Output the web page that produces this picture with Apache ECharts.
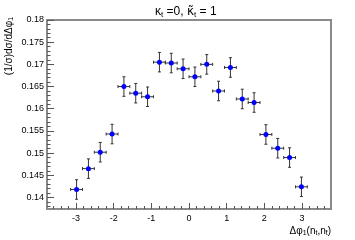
<!DOCTYPE html>
<html>
<head>
<meta charset="utf-8">
<script src="https://cdn.jsdelivr.net/npm/echarts@6/dist/echarts.min.js"></script>
<style>html,body{margin:0;padding:0;background:#fff}#c{width:355px;height:240px}</style>
</head>
<body>
<div id="c"></div>
<script>
// Bin centres of Δφ1 (20 bins over [-π, π])
var binCenters = [-2.985, -2.670, -2.356, -2.042, -1.728, -1.414, -1.100, -0.785, -0.471, -0.157,
                   0.157,  0.471,  0.785,  1.100,  1.414,  1.728,  2.042,  2.356,  2.670,  2.985];
var values = [0.1418, 0.1465, 0.1502, 0.1543, 0.1650, 0.1635, 0.1627, 0.1705, 0.1703, 0.1690,
              0.1672, 0.1700, 0.1640, 0.1693, 0.1622, 0.1614, 0.1542, 0.1511, 0.1490, 0.1424];
var yErrors = [0.0022, 0.0022, 0.0022, 0.0022, 0.0022, 0.0022, 0.0022, 0.0022, 0.0022, 0.0022,
               0.0022, 0.0022, 0.0022, 0.0022, 0.0022, 0.0022, 0.0022, 0.0022, 0.0022, 0.0022];
var binHalfWidth = 0.157;
var xMajorTicks = [-3, -2, -1, 0, 1, 2, 3];
var xMinorTicks = [-3.6, -3.4, -3.2, -2.8, -2.6, -2.4, -2.2, -1.8, -1.6, -1.4, -1.2, -0.8, -0.6, -0.4, -0.2,
                   0.2, 0.4, 0.6, 0.8, 1.2, 1.4, 1.6, 1.8, 2.2, 2.4, 2.6, 2.8, 3.2, 3.4, 3.6];
var yMajorTicks = [0.14, 0.145, 0.15, 0.155, 0.16, 0.165, 0.17, 0.175, 0.18];
var yMinorTicks = [0.138, 0.139, 0.141, 0.142, 0.143, 0.144, 0.146, 0.147, 0.148, 0.149,
                   0.151, 0.152, 0.153, 0.154, 0.156, 0.157, 0.158, 0.159,
                   0.161, 0.162, 0.163, 0.164, 0.166, 0.167, 0.168, 0.169,
                   0.171, 0.172, 0.173, 0.174, 0.176, 0.177, 0.178, 0.179];
var xMin = -3.7699, xMax = 3.7699, yMin = 0.1374, yMax = 0.18;

var FONT = '"Liberation Sans", Arial, sans-serif';
var pts = binCenters.map(function (x, i) { return [x, values[i], yErrors[i]]; });

var chart = echarts.init(document.getElementById('c'), null, {renderer: 'canvas'});
function sub(size, pad) { return {fontSize: size, fontFamily: FONT, color: '#000', padding: [pad, 0, 0, 0]}; }
chart.setOption({
  animation: false,
  backgroundColor: '#fff',
  grid: {left: 47, right: 24, top: 20, bottom: 31, show: true, borderColor: '#8a8a8a', borderWidth: 2, backgroundColor: 'transparent'},
  xAxis: [{
    type: 'value', min: xMin, max: xMax, position: 'bottom',
    axisLine: {show: true, onZero: false, lineStyle: {color: '#8a8a8a', width: 2}},
    axisTick: {show: true, inside: true, length: 6, customValues: xMajorTicks, lineStyle: {color: '#555'}},
    axisLabel: {show: true, customValues: xMajorTicks, margin: 5, fontSize: 9, fontFamily: FONT, color: '#000',
      formatter: function (v) { return String(Math.round(v)); }},
    splitLine: {show: false}
  }, {
    type: 'value', min: xMin, max: xMax, position: 'bottom',
    axisLine: {show: false, onZero: false},
    axisTick: {show: true, inside: true, length: 3, customValues: xMinorTicks, lineStyle: {color: '#555'}},
    axisLabel: {show: false},
    splitLine: {show: false}
  }],
  yAxis: [{
    type: 'value', min: yMin, max: yMax, position: 'left',
    axisLine: {show: true, onZero: false, lineStyle: {color: '#8a8a8a', width: 2}},
    axisTick: {show: true, inside: true, length: 7, customValues: yMajorTicks, lineStyle: {color: '#555'}},
    axisLabel: {show: true, customValues: yMajorTicks, margin: 3, fontSize: 9, fontFamily: FONT, color: '#000',
      formatter: function (v) { return String(+v.toFixed(3)); }},
    splitLine: {show: false}
  }, {
    type: 'value', min: yMin, max: yMax, position: 'left',
    axisLine: {show: false, onZero: false},
    axisTick: {show: true, inside: true, length: 3.5, customValues: yMinorTicks, lineStyle: {color: '#555'}},
    axisLabel: {show: false},
    splitLine: {show: false}
  }],
  graphic: [{
    type: 'text', z: 100, x: 155, y: 12,
    style: {
      text: '\u03ba{sub|t} =0, {tk|\u03ba\u0303}{sub|t} = 1',
      font: '12px ' + FONT, fill: '#000', align: 'left', verticalAlign: 'middle',
      rich: {sub: sub(8, 6), tk: {fontSize: 12, fontFamily: '"DejaVu Sans", sans-serif', color: '#000'}}
    }
  }, {
    type: 'text', z: 100, x: 9, y: 46, rotation: Math.PI / 2,
    style: {
      text: '(1/\u03c3)d\u03c3/d\u0394\u03c6{sub|1}',
      font: '10px ' + FONT, fill: '#000', align: 'center', verticalAlign: 'middle',
      rich: {sub: sub(7, 5)}
    }
  }, {
    type: 'text', z: 100, x: 331, y: 231,
    style: {
      text: '\u0394\u03c6{sub|1}(n{sub|t},n{sub|t\u0304})',
      font: '10px ' + FONT, fill: '#000', align: 'right', verticalAlign: 'middle',
      rich: {sub: sub(7, 5)}
    }
  }],
  series: [{
    type: 'custom',
    xAxisIndex: 0, yAxisIndex: 0,
    data: pts,
    z: 2,
    renderItem: function (params, api) {
      var x = api.value(0), y = api.value(1), e = api.value(2);
      var l = api.coord([x - binHalfWidth, y]), r = api.coord([x + binHalfWidth, y]);
      var t = api.coord([x, y + e]), b = api.coord([x, y - e]);
      var st = {stroke: '#333', lineWidth: 1};
      var c = 1.5;
      return {type: 'group', children: [
        {type: 'line', shape: {x1: l[0], y1: l[1], x2: r[0], y2: r[1]}, style: st},
        {type: 'line', shape: {x1: t[0], y1: t[1], x2: b[0], y2: b[1]}, style: st},
        {type: 'line', shape: {x1: t[0] - c, y1: t[1], x2: t[0] + c, y2: t[1]}, style: st},
        {type: 'line', shape: {x1: b[0] - c, y1: b[1], x2: b[0] + c, y2: b[1]}, style: st},
        {type: 'line', shape: {x1: l[0], y1: l[1] - c, x2: l[0], y2: l[1] + c}, style: st},
        {type: 'line', shape: {x1: r[0], y1: r[1] - c, x2: r[0], y2: r[1] + c}, style: st}
      ]};
    }
  }, {
    type: 'scatter',
    xAxisIndex: 0, yAxisIndex: 0,
    data: pts.map(function (p) { return [p[0], p[1]]; }),
    symbol: 'circle', symbolSize: 5, z: 3,
    itemStyle: {color: '#0000ff', opacity: 1}
  }]
});
</script>
</body>
</html>
